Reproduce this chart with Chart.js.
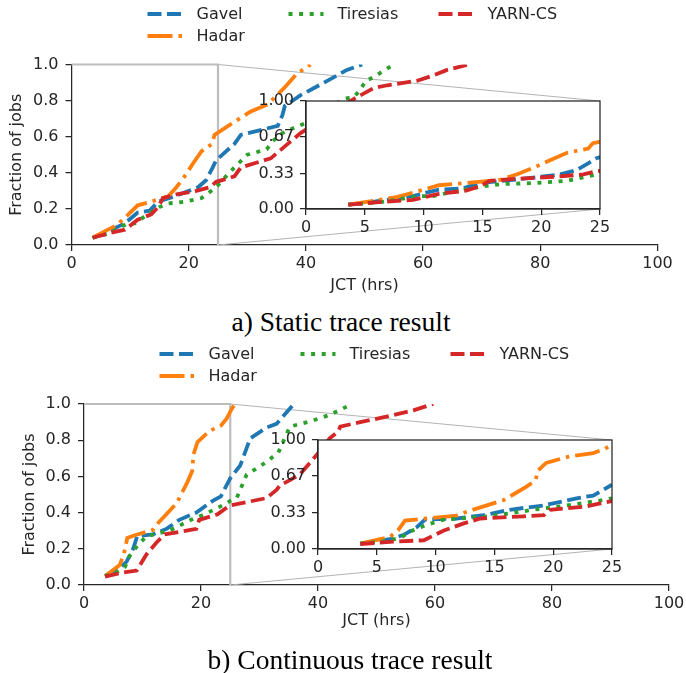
<!DOCTYPE html>
<html>
<head>
<meta charset="utf-8">
<script src="https://cdn.jsdelivr.net/npm/chart.js@4.4.0/dist/chart.umd.min.js"></script>
<style>
  body { margin: 0; background: #fff; width: 686px; height: 673px; position: relative; overflow: hidden; }
  canvas { position: absolute; }
  .inset { z-index: 2; }
  .cap { position: absolute; font-family: "Liberation Serif", serif; font-size: 27.5px; color: #000;
         white-space: nowrap; transform: translateX(-50%); height: 30px; line-height: 30px; }
</style>
</head>
<body>
<canvas id="mainA"></canvas>
<canvas id="insetA" class="inset"></canvas>
<div class="cap" style="left:341px; top:307px;">a) Static trace result</div>
<canvas id="mainB"></canvas>
<canvas id="insetB" class="inset"></canvas>
<div class="cap" style="left:350px; top:645px;">b) Continuous trace result</div>
<script>
// series names, in legend order
var seriesNames = ['Gavel', 'Hadar', 'Tiresias', 'YARN-CS'];

// tick labels
var mainXTicks = [0, 20, 40, 60, 80, 100];
var mainYTicks = [0, 0.2, 0.4, 0.6, 0.8, 1.0];
var insetXTicks = [0, 5, 10, 15, 20, 25];
var insetYTicks = [0, 0.33, 0.67, 1.0];

// a) static trace: [JCT hrs, fraction of jobs]
var staticGavel = [[3.6,0.04],[5.9,0.07],[9.1,0.12],[11.3,0.18],[13.3,0.19],[14.8,0.24],[17.6,0.27],[21.6,0.32],
  [23,0.36],[24.1,0.43],[24.7,0.47],[27.8,0.56],[28.9,0.61],[35.2,0.66],[36,0.72],[36.4,0.77],[39.1,0.83],
  [41.4,0.87],[44.8,0.93],[47,0.97],[49.6,1.0]];
var staticHadar = [[3.6,0.04],[7.7,0.11],[9.4,0.16],[11.3,0.22],[13.6,0.24],[16.5,0.27],[17.9,0.32],[19.3,0.38],
  [20.7,0.45],[22.2,0.52],[24,0.56],[24.4,0.61],[27.2,0.67],[30.6,0.74],[33.5,0.78],[36.3,0.87],[38.5,0.95],[40.8,1.0]];
var staticTiresias = [[3.6,0.04],[6.5,0.065],[9.6,0.12],[10.8,0.12],[13,0.17],[15,0.21],[16.5,0.23],[19.3,0.24],
  [22.2,0.26],[24.7,0.32],[25.5,0.35],[27.8,0.43],[30,0.5],[33.3,0.53],[34.5,0.58],[36,0.62],[38,0.65],[40.3,0.68],
  [46.5,0.81],[48.2,0.82],[49.3,0.86],[50.2,0.91],[51.6,0.93],[53,0.96],[54.5,0.99]];
var staticYarn = [[3.6,0.04],[6.5,0.066],[9.1,0.085],[11.3,0.14],[13.6,0.17],[14.8,0.21],[15.6,0.26],[17.9,0.28],
  [21.3,0.3],[23.6,0.32],[24.7,0.35],[27.8,0.38],[28.9,0.43],[34,0.48],[36.9,0.56],[39.1,0.62],[48.2,0.81],
  [51.6,0.87],[53.9,0.885],[59,0.91],[61.8,0.94],[64.1,0.97],[67.8,1.0]];

// b) continuous trace
var contGavel = [[3.6,0.05],[6.1,0.09],[7.3,0.13],[8.4,0.2],[9.1,0.27],[11.8,0.28],[14.1,0.31],[16.3,0.36],
  [19.2,0.4],[22,0.465],[23.4,0.49],[25,0.59],[26.7,0.66],[27.5,0.73],[28.4,0.81],[31.2,0.87],[32.9,0.89],
  [35.2,0.975],[35.9,1.0]];
var contHadar = [[3.6,0.05],[6.1,0.11],[6.8,0.17],[7.4,0.26],[8.7,0.275],[11.8,0.305],[12.6,0.34],[15.8,0.45],
  [16.6,0.5],[17.7,0.57],[18.5,0.63],[18.7,0.72],[19.4,0.79],[21.4,0.85],[23.4,0.88],[24.4,0.92],[25.2,0.97],[25.8,1.0]];
var contTiresias = [[3.6,0.05],[5.5,0.07],[7,0.1],[7.8,0.16],[9.2,0.22],[10.7,0.27],[14.6,0.3],[18.3,0.36],
  [20.9,0.395],[24.3,0.45],[25,0.465],[26.1,0.48],[27.8,0.61],[30.3,0.66],[33.2,0.73],[35.2,0.875],[38.8,0.905],
  [42,0.94],[45.2,0.99]];
var contYarn = [[3.6,0.046],[6.4,0.067],[9,0.08],[10.7,0.17],[12.4,0.235],[13.8,0.28],[17.5,0.3],[19.2,0.31],
  [19.7,0.36],[22.8,0.39],[24.3,0.425],[25,0.44],[31.2,0.48],[32.9,0.525],[33.5,0.55],[36.9,0.61],[39.8,0.72],
  [42,0.81],[43.5,0.85],[43.8,0.875],[47.2,0.9],[51.7,0.93],[56.3,0.965],[59.7,1.0]];

var FONT = 'DejaVu Sans';
var INK = '#262626';
var styles = [
  { color: '#1f77b4', dash: [14, 5.5] },
  { color: '#ff7f0e', dash: [25, 6, 3.5, 6] },
  { color: '#2ca02c', dash: [4, 6.6] },
  { color: '#d62728', dash: [14, 5.5] }
];

function toPoints(arr) {
  return arr.map(function(p) { return { x: p[0], y: p[1] }; });
}

function makeDatasets(series) {
  return series.map(function(s, i) {
    return {
      label: seriesNames[i],
      data: toPoints(s),
      borderColor: styles[i].color,
      borderDash: styles[i].dash,
      borderWidth: 3.8,
      borderCapStyle: 'butt',
      pointRadius: 0,
      tension: 0,
      fill: false,
      order: 4 - i
    };
  });
}

function setTicks(list) {
  return function(scale) {
    scale.ticks = list.map(function(v) { return { value: v }; });
  };
}

function axis(opts) {
  return {
    type: 'linear',
    min: opts.min, max: opts.max,
    afterBuildTicks: setTicks(opts.ticks),
    afterFit: function(s) {
      opts.fit(s);
      // keep the plot box where it is, labels may hang over the padding
      s.paddingTop = 0; s.paddingBottom = 0;
      s.paddingLeft = 0; s.paddingRight = 0;
    },
    grid: { drawOnChartArea: false, drawTicks: true, tickLength: 6, color: INK, lineWidth: 1.25 },
    border: { display: true, color: INK, width: 1.25 },
    ticks: {
      autoSkip: false, maxRotation: 0, padding: opts.pad, color: INK,
      font: { family: FONT, size: 16 },
      callback: function(v) { return v.toFixed(opts.digits); }
    },
    title: opts.title
  };
}

function place(canvas, box) {
  canvas.width = box.w; canvas.height = box.h;
  canvas.style.left = box.left + 'px'; canvas.style.top = box.top + 'px';
  canvas.style.width = box.w + 'px'; canvas.style.height = box.h + 'px';
}

// white face and full box for the inset axes
var insetFrame = {
  id: 'insetFrame',
  beforeDraw: function(chart) {
    var a = chart.chartArea, ctx = chart.ctx;
    ctx.save();
    ctx.fillStyle = '#fff';
    ctx.fillRect(a.left, a.top, a.right - a.left, a.bottom - a.top);
    ctx.restore();
  },
  afterDraw: function(chart) {
    var a = chart.chartArea, ctx = chart.ctx;
    ctx.save();
    ctx.strokeStyle = INK; ctx.lineWidth = 1.25;
    ctx.strokeRect(a.left, a.top, a.right - a.left, a.bottom - a.top);
    ctx.restore();
  }
};

// zoom rectangle, connector lines and legend for the main axes
var zoomMarks = {
  id: 'zoomMarks',
  beforeDatasetsDraw: function(chart, args, o) {
    var ctx = chart.ctx, x = chart.scales.x, y = chart.scales.y;
    var x0 = x.getPixelForValue(0), x1 = x.getPixelForValue(25);
    var y0 = y.getPixelForValue(0), y1 = y.getPixelForValue(1);
    var ia = o.inset.chartArea;
    var dx = o.insetBox.left - o.mainBox.left, dy = o.insetBox.top - o.mainBox.top;
    ctx.save();
    ctx.strokeStyle = '#b3b3b3'; ctx.lineWidth = 1;
    ctx.beginPath();
    ctx.moveTo(x1, y1); ctx.lineTo(ia.right + dx, ia.top + dy);
    ctx.moveTo(x1, y0); ctx.lineTo(ia.right + dx, ia.bottom + dy);
    ctx.stroke();
    ctx.strokeStyle = '#bdbdbd'; ctx.lineWidth = 2.2;
    ctx.beginPath();
    ctx.moveTo(x0, y1); ctx.lineTo(x1, y1); ctx.lineTo(x1, y0);
    ctx.stroke();
    ctx.restore();
  },
  afterDraw: function(chart) {
    var ctx = chart.ctx, a = chart.chartArea;
    var start = (a.left + a.right) / 2 - 217;
    var cols = [0, 0, 141, 291], rows = [14, 36, 14, 14];
    ctx.save();
    ctx.font = '16px "' + FONT + '"';
    ctx.textBaseline = 'middle';
    ctx.fillStyle = INK;
    seriesNames.forEach(function(name, i) {
      var sx = start + cols[i], sy = rows[i];
      ctx.strokeStyle = styles[i].color;
      ctx.lineWidth = 3.8;
      ctx.lineCap = 'butt';
      ctx.setLineDash(styles[i].dash);
      ctx.beginPath(); ctx.moveTo(sx, sy); ctx.lineTo(sx + 35, sy); ctx.stroke();
      ctx.setLineDash([]);
      ctx.fillText(name, sx + 49, sy + 1);
    });
    ctx.restore();
  }
};

function buildPanel(ids, series, g) {
  var datasets = makeDatasets(series);
  var ic = document.getElementById(ids[1]);
  place(ic, g.insetBox);
  var inset = new Chart(ic, {
    type: 'line',
    data: { datasets: makeDatasets(series) },
    plugins: [insetFrame],
    options: {
      responsive: false, animation: false, devicePixelRatio: 1,
      layout: { padding: { left: 0, top: g.insetPad.top, right: g.insetPad.right, bottom: 0 } },
      plugins: { legend: { display: false }, tooltip: { enabled: false } },
      scales: {
        x: axis({ min: 0, max: 25, ticks: insetXTicks, digits: 0, pad: 3,
          fit: function(s) { s.height = g.insetPad.xh; } }),
        y: axis({ min: 0, max: 1, ticks: insetYTicks, digits: 2, pad: 6,
          fit: function(s) { s.width = g.insetPad.yw; } })
      }
    }
  });

  var mc = document.getElementById(ids[0]);
  place(mc, g.mainBox);
  new Chart(mc, {
    type: 'line',
    data: { datasets: datasets },
    plugins: [zoomMarks],
    options: {
      responsive: false, animation: false, devicePixelRatio: 1,
      layout: { padding: { left: 0, top: g.mainPad.top, right: g.mainPad.right, bottom: 0 } },
      plugins: {
        legend: { display: false }, tooltip: { enabled: false },
        zoomMarks: { inset: inset, insetBox: g.insetBox, mainBox: g.mainBox }
      },
      scales: {
        x: axis({ min: 0, max: 100, ticks: mainXTicks, digits: 0, pad: 3,
          fit: function(s) { s.height = g.mainPad.xh; },
          title: { display: true, text: 'JCT (hrs)', color: INK, font: { family: FONT, size: 16 },
                   padding: { top: 0, bottom: g.mainPad.xt } } }),
        y: axis({ min: 0, max: 1, ticks: mainYTicks, digits: 1, pad: 7,
          fit: function(s) { s.width = g.mainPad.yw; },
          title: { display: true, text: 'Fraction of jobs', color: INK, font: { family: FONT, size: 16 },
                   padding: { top: g.mainPad.yt, bottom: 0 } } })
      }
    }
  });
}

buildPanel(['mainA', 'insetA'], [staticGavel, staticHadar, staticTiresias, staticYarn], {
  mainBox: { left: 0, top: 0, w: 686, h: 300 },
  mainPad: { top: 64.5, right: 28.5, yw: 71.5, xh: 55, xt: 4.6, yt: 7.4 },
  insetBox: { left: 240, top: 90, w: 380, h: 145 },
  insetPad: { top: 11, right: 20, yw: 66, xh: 26 }
});

buildPanel(['mainB', 'insetB'], [contGavel, contHadar, contTiresias, contYarn], {
  mainBox: { left: 0, top: 340, w: 686, h: 305 },
  mainPad: { top: 64, right: 17, yw: 84, xh: 60, xt: 14.4, yt: 20.4 },
  insetBox: { left: 250, top: 428, w: 380, h: 148 },
  insetPad: { top: 12, right: 18, yw: 68, xh: 27 }
});
</script>
</body>
</html>
